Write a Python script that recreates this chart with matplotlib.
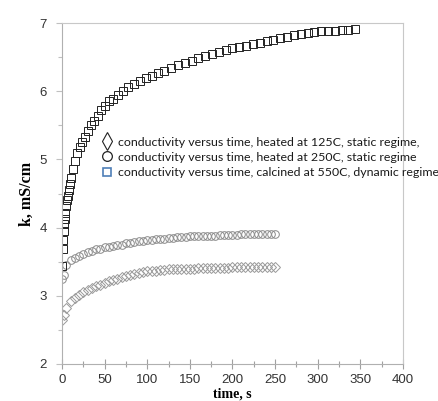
import matplotlib.pyplot as plt
from matplotlib.lines import Line2D

# conductivity k (mS/cm) versus time (s)
t_550 = [0, 1, 1.5, 2, 2.5, 3, 4, 5, 6, 7, 8, 9.5, 11, 13, 15, 18, 21, 24, 27, 30,
         34, 38, 42, 46, 50, 55, 60, 66, 72, 78, 85, 92, 99, 106, 113, 120, 128,
         136, 144, 152, 160, 168, 176, 184, 192, 200, 208, 216, 224, 232, 240,
         248, 256, 264, 272, 280, 288, 296, 304, 312, 320, 328, 336, 344]
k_550 = [3.44, 3.68, 3.82, 3.95, 4.05, 4.13, 4.22, 4.32, 4.40, 4.47, 4.55, 4.64,
         4.73, 4.86, 4.98, 5.10, 5.18, 5.26, 5.33, 5.42, 5.50, 5.57, 5.64, 5.72,
         5.79, 5.85, 5.89, 5.95, 6.00, 6.06, 6.10, 6.15, 6.19, 6.23, 6.27, 6.30,
         6.34, 6.38, 6.41, 6.45, 6.48, 6.52, 6.55, 6.57, 6.60, 6.63, 6.65, 6.67,
         6.69, 6.71, 6.73, 6.75, 6.78, 6.80, 6.82, 6.84, 6.86, 6.87, 6.88, 6.89,
         6.89, 6.90, 6.90, 6.91]

t_250 = [0, 2, 5, 10, 15, 20, 25, 30, 35, 40, 45, 50, 55, 60, 65, 70, 75, 80, 85,
         90, 95, 100, 105, 110, 115, 120, 125, 130, 135, 140, 145, 150, 155, 160,
         165, 170, 175, 180, 185, 190, 195, 200, 205, 210, 215, 220, 225, 230,
         235, 240, 245, 250]
k_250 = [3.25, 3.30, 3.45, 3.52, 3.56, 3.59, 3.62, 3.64, 3.66, 3.68, 3.69, 3.71,
         3.72, 3.73, 3.74, 3.75, 3.77, 3.78, 3.79, 3.80, 3.81, 3.82, 3.82, 3.83,
         3.84, 3.84, 3.85, 3.85, 3.86, 3.86, 3.86, 3.87, 3.87, 3.87, 3.88, 3.88,
         3.88, 3.88, 3.89, 3.89, 3.89, 3.89, 3.89, 3.90, 3.90, 3.90, 3.90, 3.90,
         3.90, 3.90, 3.90, 3.90]

t_125 = t_250
k_125 = [2.65, 2.72, 2.82, 2.92, 2.97, 3.01, 3.05, 3.09, 3.12, 3.14, 3.16, 3.19,
         3.21, 3.23, 3.25, 3.27, 3.29, 3.31, 3.32, 3.34, 3.35, 3.36, 3.37, 3.37,
         3.38, 3.38, 3.39, 3.39, 3.39, 3.40, 3.40, 3.40, 3.40, 3.41, 3.41, 3.41,
         3.41, 3.41, 3.41, 3.41, 3.41, 3.42, 3.42, 3.42, 3.42, 3.42, 3.42, 3.42,
         3.42, 3.42, 3.42, 3.42]

labels = ["conductivity versus time, heated at 125C, static regime,",
          "conductivity versus time, heated at 250C, static regime",
          "conductivity versus time, calcined at 550C, dynamic regime"]

fig = plt.figure(figsize=(4.39, 4.01), dpi=100)
ax = fig.add_axes([0.1412, 0.0923, 0.7768, 0.8503])

ax.plot(t_125, k_125, ls='none', marker='D', ms=4.6, mfc='none', mec='#9a9a9a', mew=0.7)
ax.plot(t_250, k_250, ls='none', marker='o', ms=5.5, mfc='none', mec='#8a8a8a', mew=0.7)
ax.plot(t_550, k_550, ls='none', marker='s', ms=6.3, mfc='none', mec='#222222', mew=0.7)

ax.set_xlim(0, 400)
ax.set_ylim(2, 7)
ax.set_xticks(range(0, 401, 50))
ax.set_xticks(range(25, 400, 50), minor=True)
ax.set_yticks(range(2, 8))
ax.set_yticks([2.5, 3.5, 4.5, 5.5, 6.5], minor=True)

for s in ax.spines.values():
    s.set_color('#c8c8c8')
    s.set_linewidth(0.8)
ax.spines['left'].set_color('#b0b0b0')
ax.spines['bottom'].set_color('#b0b0b0')

ax.tick_params(axis='x', which='major', direction='inout', length=7, width=0.8,
               color='#a0a0a0', labelsize=9.5, labelcolor='#333333', pad=4)
ax.tick_params(axis='x', which='minor', direction='inout', length=5, width=0.8, color='#a0a0a0')
ax.tick_params(axis='y', which='major', direction='out', length=4, width=0.8,
               color='#c0c0c0', labelsize=9.5, labelcolor='#333333', pad=7)
ax.tick_params(axis='y', which='minor', direction='out', length=3, width=0.8, color='#c0c0c0')
for lab in ax.get_xticklabels() + ax.get_yticklabels():
    lab.set_family('Liberation Sans')

ax.set_xlabel('time, s', family='Liberation Serif', fontweight='bold', fontsize=10, labelpad=1)
ax.set_ylabel('k, mS/cm', family='Liberation Serif', fontweight='bold', fontsize=11.5, labelpad=3)

handles = [
    Line2D([], [], ls='none', marker='d', ms=9, mfc='none', mec='#222222', mew=0.8),
    Line2D([], [], ls='none', marker='o', ms=7, mfc='none', mec='#222222', mew=0.9),
    Line2D([], [], ls='none', marker='s', ms=5.5, mfc='none', mec='#4f7fb8', mew=1.2),
]
leg = fig.legend(handles, labels, loc='upper left', bbox_to_anchor=(0.218, 0.675),
                 frameon=False, handlelength=0.8, handletextpad=0.5, labelspacing=0.34,
                 borderpad=0, prop={'family': 'Lato', 'size': 8.9})
for txt in leg.get_texts():
    txt.set_color('#1a1a1a')

fig.savefig('out.png', dpi=100)
